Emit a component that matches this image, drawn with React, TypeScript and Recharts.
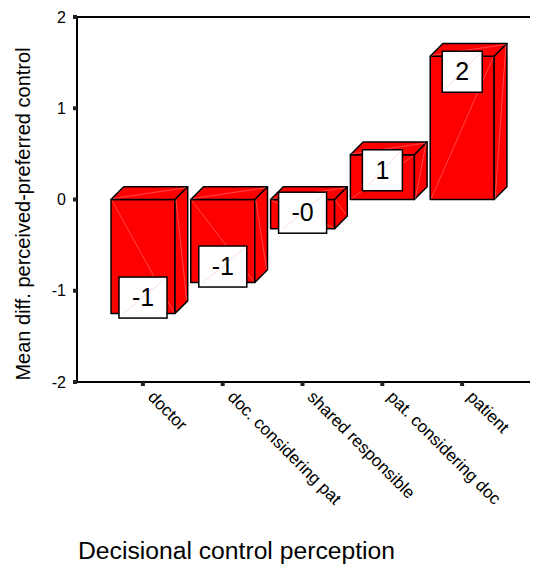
import React from "react";
import { BarChart, Bar, XAxis, YAxis, LabelList, ReferenceLine } from "recharts";

const categories = ["doctor", "doc. considering pat", "shared responsible", "pat. considering doc", "patient"];
const values = [-1.25, -0.91, -0.32, 0.49, 1.57];
const labels = ["-1", "-1", "-0", "1", "2"];
const yTicks = [-2, -1, 0, 1, 2];

const data = categories.map((c, i) => ({ c, v: values[i], l: labels[i] }));

const DEPTH = 12.7;
const RED = "#ff0000";
const PALE = "#ff9090";

const Box3D = (p: any) => {
  const { x, y, width, height } = p;
  const top = Math.min(y, y + height);
  const bottom = Math.max(y, y + height);
  const left = x;
  const right = x + width;
  const d = DEPTH;
  const neg = p.v < 0;
  return (
    <g>
      <path d={`M${left} ${top}L${right} ${top}L${right} ${bottom}L${left} ${bottom}Z`} fill={RED} stroke="#000" strokeWidth={1.5} strokeLinejoin="round" />
      <path d={`M${left} ${top}L${left + d} ${top - d}L${right + d} ${top - d}L${right} ${top}Z`} fill={RED} stroke="#000" strokeWidth={1.5} strokeLinejoin="round" />
      <path d={`M${right} ${top}L${right + d} ${top - d}L${right + d} ${bottom - d}L${right} ${bottom}Z`} fill={RED} stroke="#000" strokeWidth={1.5} strokeLinejoin="round" />
      {neg ? (
        <>
          <line x1={left + 1} y1={top + 1} x2={right - 1} y2={bottom - 1} stroke={PALE} strokeWidth={0.5} />
          <line x1={right + 1} y1={top + 1} x2={right + d - 1} y2={bottom - d - 1} stroke={PALE} strokeWidth={0.5} />
        </>
      ) : (
        <>
          <line x1={left + 1} y1={bottom - 1} x2={right - 1} y2={top + 1} stroke={PALE} strokeWidth={0.5} />
          <line x1={right + 1} y1={bottom - 1} x2={right + d - 1} y2={top - d + 1} stroke={PALE} strokeWidth={0.5} />
        </>
      )}
      <line x1={left + 2} y1={top - 1} x2={right + d - 2} y2={top - d + 1} stroke={PALE} strokeWidth={0.5} />
    </g>
  );
};

const ValueBox = (p: any) => {
  const { x, y, width, height, value } = p;
  const s = String(value);
  const w = s.length > 1 ? 48 : 40;
  const h = 41;
  const neg = s.startsWith("-");
  const edge = neg ? Math.max(y, y + height) : Math.min(y, y + height);
  const cy = neg ? edge - 16 : edge + 15.5;
  const cx = x + width / 2;
  return (
    <g>
      <rect x={cx - w / 2} y={cy - h / 2} width={w} height={h} fill="#fff" stroke="#000" strokeWidth={1.5} />
      <line x1={cx - w / 2 + 4} y1={cy + h / 2 - 4} x2={cx + w / 2 - 1} y2={cy - h / 2 + 1} stroke="#ffc8c8" strokeWidth={0.7} />
      <text x={cx} y={cy + 8.5} textAnchor="middle" fontFamily="Liberation Sans" fontSize={25} fill="#000">{s}</text>
    </g>
  );
};

const XTick = (p: any) => {
  const { x, y, payload } = p;
  return (
    <text transform={`translate(${x + 4} ${y + 10}) rotate(45)`} fontFamily="Liberation Sans" fontSize={17} fill="#000">{payload.value}</text>
  );
};

export default function App() {
  return (
    <div style={{ position: "absolute", left: 0, top: 0 }}>
      <BarChart width={538} height={565} data={data} margin={{ top: 17, right: 8, left: 0, bottom: 0 }} barSize={64}>
        <XAxis
          dataKey="c"
          axisLine={{ stroke: "#000", strokeWidth: 2 }}
          tickLine={{ stroke: "#222", strokeWidth: 4 }}
          tickSize={4}
          interval={0}
          height={183}
          padding={{ left: 26, right: 28 }}
          tick={<XTick />}
        />
        <YAxis
          domain={[-2, 2]}
          ticks={yTicks}
          width={77}
          axisLine={{ stroke: "#000", strokeWidth: 2 }}
          tickLine={{ stroke: "#222", strokeWidth: 4 }}
          tickSize={4}
          tickMargin={7}
          tick={{ fontFamily: "Liberation Sans", fontSize: 16, fill: "#000" }}
        />
        <ReferenceLine y={2} stroke="#000" strokeWidth={2} />
        <Bar dataKey="v" isAnimationActive={false} shape={<Box3D />}>
          <LabelList dataKey="l" content={<ValueBox />} />
        </Bar>
        <text transform="translate(30 214) rotate(-90)" textAnchor="middle" fontFamily="Liberation Sans" fontSize={20} fill="#000">Mean diff. perceived-preferred control</text>
        <text x={78} y={559} fontFamily="Liberation Sans" fontSize={24.7} fill="#000">Decisional control perception</text>
      </BarChart>
    </div>
  );
}
